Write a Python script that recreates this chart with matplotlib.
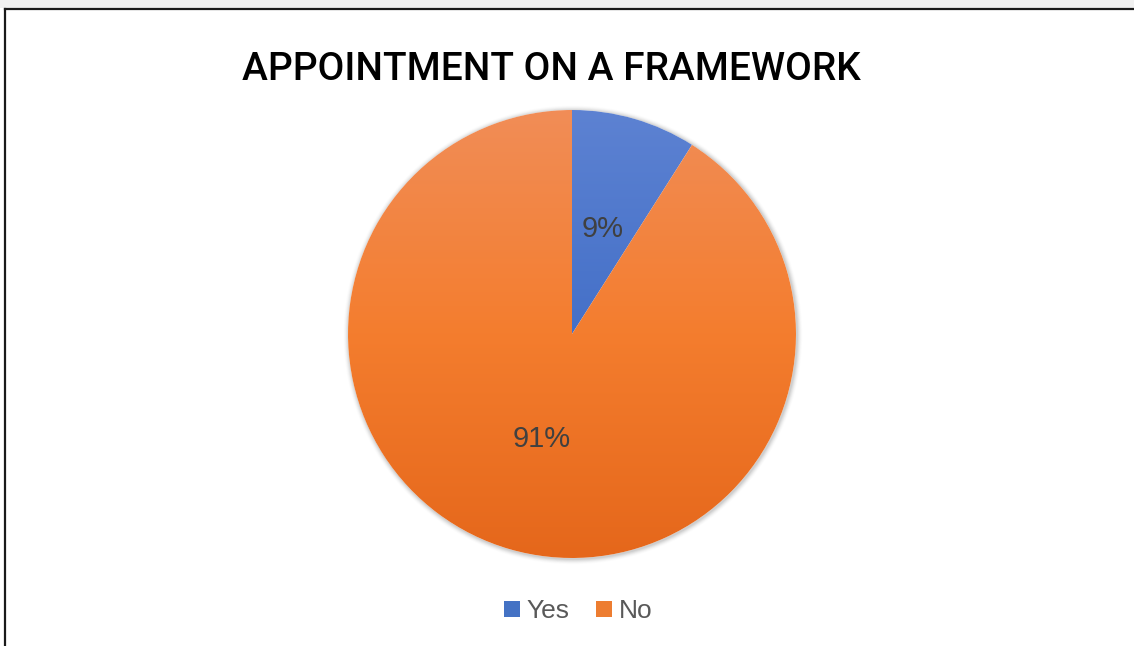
"""Pie chart: appointment on a framework"""

import numpy as np
import matplotlib.pyplot as plt
from matplotlib.colors import LinearSegmentedColormap
from matplotlib.patches import Circle, Rectangle
from matplotlib.lines import Line2D

title = 'APPOINTMENT ON A FRAMEWORK'
answers = ['Yes', 'No']
shares = [9, 91]

# top / middle / bottom colours of the vertical gradient for each slice
blue_grad = ['#5d82d2', '#4470c8', '#2f60bd']
orange_grad = ['#f18d57', '#f47d2e', '#e5671b']
legend_colors = ['#4472c4', '#ed7d31']

W, H = 1134, 646
fig = plt.figure(figsize=(W / 100, H / 100), dpi=100)
fig.patch.set_facecolor('white')

# pie centre and radius in pixels
cx, cy, r = 572, 334, 224
span = 1.1
ax = fig.add_axes([(cx - span * r) / W, 1 - (cy + span * r) / H,
                   2 * span * r / W, 2 * span * r / H])
ax.axis('off')

# soft shadow around the pie edge
for k, a in zip(range(6), [0.05, 0.045, 0.04, 0.03, 0.02, 0.01]):
    ax.add_patch(Circle((0.004, -0.004), 1 + 0.004 * (k + 1), color='#000000',
                        alpha=a, lw=0, zorder=0))
ax.add_patch(Circle((0, 0), 1, color='white', lw=0, zorder=0.5))

wedges, texts = ax.pie(shares, startangle=90, counterclock=False, radius=1,
                       wedgeprops=dict(linewidth=0))

grad = np.linspace(0, 1, 256).reshape(-1, 1)
for w, cols in zip(wedges, [blue_grad, orange_grad]):
    w.set_facecolor('none')
    cmap = LinearSegmentedColormap.from_list('g', cols[::-1])
    im = ax.imshow(grad, cmap=cmap, extent=[-1, 1, -1, 1], origin='lower',
                   aspect='auto', zorder=1, interpolation='bilinear')
    im.set_clip_path(w)

# percentage labels at half the radius
for w, v in zip(wedges, shares):
    mid = np.deg2rad((w.theta1 + w.theta2) / 2)
    ax.text(0.49 * np.cos(mid), 0.49 * np.sin(mid), f'{v}%', ha='center',
            va='center', fontsize=21, color='#404040', zorder=3,
            family=['Liberation Sans', 'DejaVu Sans'])

ax.set_xlim(-span, span)
ax.set_ylim(-span, span)
ax.set_aspect('auto')

fig.text(551 / W, 1 - 69 / H, title, ha='center', va='center', fontsize=28,
         color='black', weight='medium', family=['Roboto', 'DejaVu Sans'])

handles = [Line2D([], [], marker='s', ls='none', markersize=11.5,
                  markerfacecolor=c, markeredgewidth=0) for c in legend_colors]
leg = fig.legend(handles, answers, loc='center', bbox_to_anchor=(577 / W, 1 - 611 / H),
                 ncol=2, frameon=False, handletextpad=0.15, columnspacing=0.9,
                 handlelength=0.8, prop=dict(family='Liberation Sans', size=19))
for t in leg.get_texts():
    t.set_color('#595959')

# outer frame: faint band on top, dark top and left edges
fig.add_artist(Rectangle((0, 1 - 8 / H), 1, 8 / H, transform=fig.transFigure,
                         color='#f0f0f0', lw=0))
fig.add_artist(Line2D([5 / W, 5 / W], [0, 1 - 9 / H], transform=fig.transFigure,
                      color='#1a1a1a', lw=1.6))
fig.add_artist(Line2D([5 / W, 1], [1 - 9 / H, 1 - 9 / H], transform=fig.transFigure,
                      color='#1a1a1a', lw=1.6))

fig.savefig('out.png', dpi=100)
